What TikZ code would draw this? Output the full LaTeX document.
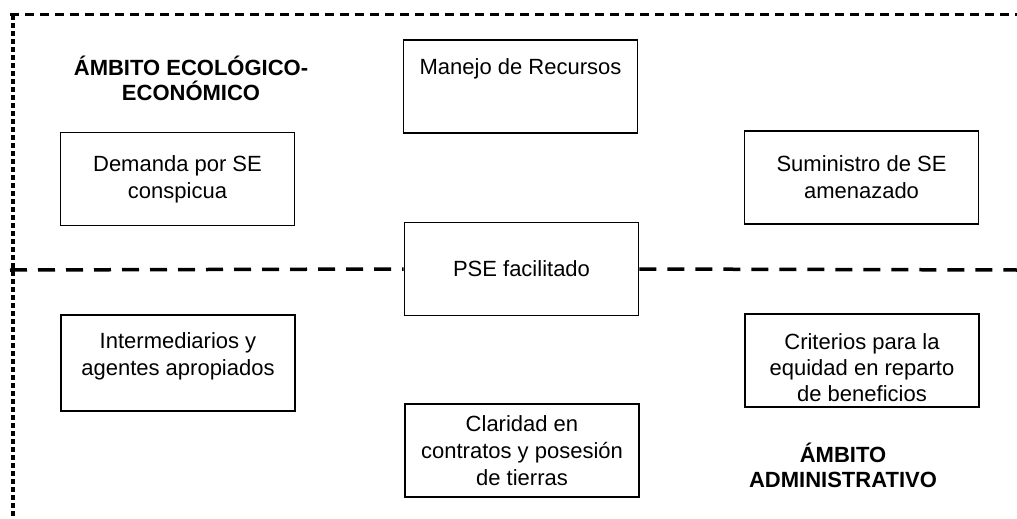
\documentclass[tikz,border=0pt]{standalone}
\usepackage{fontspec}
\setmainfont{Liberation Sans}
\begin{document}
\begin{tikzpicture}[x=1pt,y=-1pt,
	  font=\fontsize{22}{27}\selectfont,
	  caja/.style={draw,line width=1.8pt,rectangle,minimum width=234pt,minimum height=93pt,inner sep=2pt,align=center},
	  ambito/.style={font=\fontsize{22}{24.5}\selectfont\bfseries,align=center}]
		\useasboundingbox (0,0) rectangle (1017,519);
		% marco punteado
		\coordinate (arribaI) at (10,15); \coordinate (arribaD) at (1017,15);
		\coordinate (izqA) at (13,15); \coordinate (izqB) at (13,519);
		\draw[line width=3pt,dash pattern=on 9pt off 6pt] (arribaI) -- (arribaD);
		\draw[line width=3.2pt,dash pattern=on 5pt off 3pt] (izqA) -- (izqB);
		% cajas
		\node[caja] (manejo) at (520.5,86.5) {Manejo de Recursos\\[12pt]\mbox{}};
		\node[caja] (demanda) at (177.5,179) {Demanda por SE\\conspicua};
		\node[caja] (suministro) at (861.5,177.5) {Suministro de SE\\amenazado};
		\node[caja] (pse) at (521.5,269) {PSE facilitado};
		\node[caja,minimum height=96pt] (intermediarios) at (178,363) {Intermediarios y\\agentes apropiados\\[-10pt]\mbox{}};
		\node[caja] (criterios) at (862,360.5) {\mbox{}\\[4pt]Criterios para la\\[-1pt]equidad en reparto\\[-1pt]de beneficios};
		\node[caja] (claridad) at (522,450.5) {Claridad en\\contratos y posesi\'on\\de tierras};
		% linea divisoria
		\coordinate (divI) at (10,270); \coordinate (divD) at (1017,270);
		\draw[line width=3.5pt,dash pattern=on 17pt off 11pt] (divI) -- (pse.west);
		\draw[line width=3.5pt,dash pattern=on 17pt off 11pt] (pse.east) -- (divD);
		% ambitos
		\node[ambito] (ecol) at (191,78.5) {ÁMBITO ECOLÓGICO-\\ECONÓMICO};
		\node[ambito] (admin) at (843,465.5) {ÁMBITO\\ADMINISTRATIVO};
	\end{tikzpicture}
\end{document}
